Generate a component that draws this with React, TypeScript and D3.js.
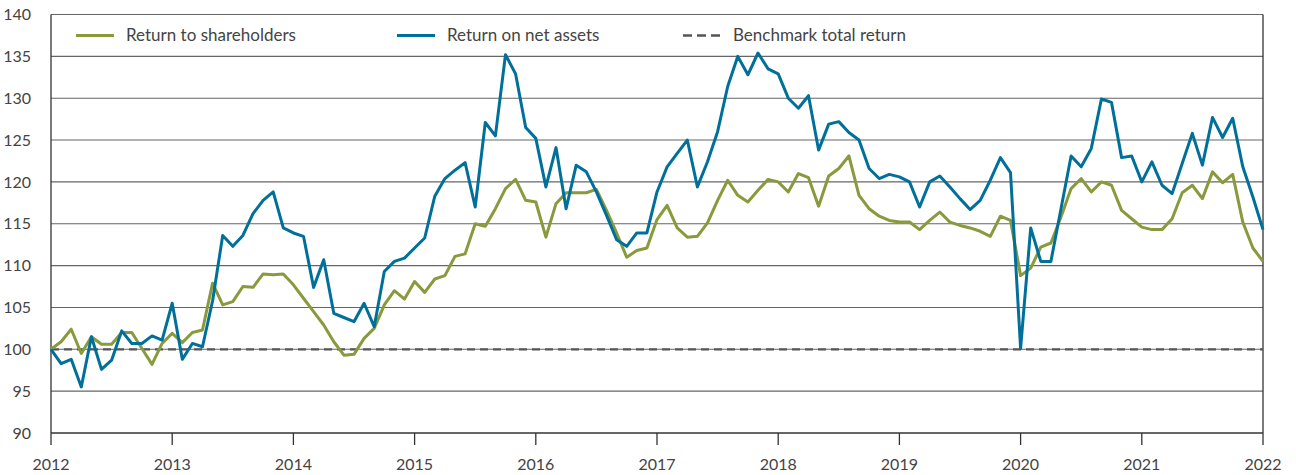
import React from 'react';
import * as d3 from 'd3';

const startYear = 2012;
const endYear = 2022;
const yTicks = [90, 95, 100, 105, 110, 115, 120, 125, 130, 135, 140];
const xTickYears = [2012, 2013, 2014, 2015, 2016, 2017, 2018, 2019, 2020, 2021, 2022];

// monthly index values, Jan 2012 to Jan 2022
const shareholders = [
  100.0, 100.9, 102.4, 99.5, 101.5, 100.6, 100.6, 102.0, 102.0, 100.1, 98.2, 100.7,
  101.9, 100.8, 102.0, 102.3, 107.9, 105.3, 105.7, 107.5, 107.4, 109.0, 108.9, 109.0,
  107.7, 106.1, 104.5, 102.9, 100.9, 99.3, 99.4, 101.3, 102.5, 105.3, 107.0, 106.0,
  108.1, 106.8, 108.4, 108.8, 111.1, 111.4, 115.0, 114.7, 116.8, 119.2, 120.3, 117.8,
  117.6, 113.4, 117.4, 118.7, 118.7, 118.7, 119.1, 116.6, 113.9, 111.0, 111.8, 112.1,
  115.5, 117.2, 114.5, 113.4, 113.5, 115.1, 117.8, 120.2, 118.4, 117.6, 119.0, 120.3,
  120.0, 118.8, 121.0, 120.5, 117.1, 120.7, 121.6, 123.1, 118.4, 116.8, 115.9, 115.4,
  115.2, 115.2, 114.3, 115.4, 116.4, 115.2, 114.8, 114.5, 114.1, 113.5, 115.9, 115.4,
  108.8, 109.7, 112.2, 112.7, 115.8, 119.2, 120.4, 118.8, 120.0, 119.6, 116.6, 115.6,
  114.6, 114.3, 114.3, 115.6, 118.7, 119.6, 118.0, 121.2, 119.9, 120.9, 115.2, 112.1,
  110.5,
];

const netAssets = [
  100.0, 98.3, 98.8, 95.5, 101.5, 97.6, 98.7, 102.2, 100.7, 100.7, 101.6, 101.1,
  105.5, 98.8, 100.7, 100.3, 105.8, 113.6, 112.3, 113.6, 116.2, 117.8, 118.8, 114.5,
  113.9, 113.5, 107.4, 110.7, 104.3, 103.8, 103.3, 105.5, 102.7, 109.3, 110.5, 110.9,
  112.1, 113.3, 118.3, 120.4, 121.4, 122.3, 117.0, 127.1, 125.5, 135.2, 132.9, 126.5,
  125.2, 119.4, 124.1, 116.8, 122.0, 121.2, 118.8, 116.0, 113.1, 112.3, 113.9, 113.9,
  118.8, 121.8, 123.4, 125.0, 119.4, 122.4, 126.0, 131.4, 135.0, 132.8, 135.4, 133.5,
  132.9, 130.0, 128.8, 130.3, 123.8, 126.9, 127.2, 125.9, 125.0, 121.6, 120.4, 120.9,
  120.6, 120.0, 117.0, 120.0, 120.7, 119.4, 118.0, 116.7, 117.8, 120.2, 122.9, 121.1,
  100.1, 114.5, 110.5, 110.5, 116.8, 123.1, 121.8, 124.0, 129.9, 129.5, 122.9, 123.1,
  120.0, 122.4, 119.6, 118.6, 122.2, 125.8, 122.0, 127.7, 125.3, 127.6, 121.8, 118.2,
  114.3,
];

const benchmark = shareholders.map(() => 100);

const seriesNames = ['Return to shareholders', 'Return on net assets', 'Benchmark total return'];
const seriesColors = ['#889a3c', '#00709b', '#555555'];

const width = 1296;
const height = 475;
const margin = { top: 14.5, right: 33, bottom: 42, left: 51 };
const font = 'Lato, "Open Sans", sans-serif';

export default function App() {
  const x = d3.scaleLinear()
    .domain([startYear, endYear])
    .range([margin.left, width - margin.right]);
  const y = d3.scaleLinear()
    .domain([90, 140])
    .range([height - margin.bottom, margin.top]);

  const monthX = (i: number) => x(startYear + i / 12);
  const line = d3.line<number>()
    .x((d, i) => monthX(i))
    .y(d => y(d));

  const legendX = [76, 397, 683];
  const legendY = 35.5;

  return (
    <svg width={width} height={height} style={{ position: 'absolute', left: 0, top: 0, background: '#fff' }}>
      {yTicks.map(t => (
        <g key={t}>
          <line x1={margin.left} x2={width - margin.right} y1={y(t)} y2={y(t)}
            stroke={t === 90 ? '#333' : '#666'} strokeWidth={t === 90 ? 1.3 : 1.1} />
          <text x={31} y={y(t)} dy="0.35em" textAnchor="end" fontFamily={font}
            fontSize={16} fill="#444">{t}</text>
        </g>
      ))}
      <line x1={margin.left} x2={margin.left} y1={margin.top} y2={y(90)} stroke="#333" strokeWidth={1.3} />
      <line x1={width - margin.right} x2={width - margin.right} y1={margin.top} y2={y(90)} stroke="#333" strokeWidth={1.3} />
      {xTickYears.map(yr => (
        <g key={yr}>
          <line x1={x(yr)} x2={x(yr)} y1={y(90)} y2={y(90) + 12} stroke="#333" strokeWidth={1.3} />
          <text x={x(yr)} y={470} textAnchor="middle" fontFamily={font} fontSize={16} fill="#444">{yr}</text>
        </g>
      ))}

      <path d={line(benchmark) || ''} fill="none" stroke={seriesColors[2]} strokeWidth={2.2} strokeDasharray="8,5" />
      <path d={line(shareholders) || ''} fill="none" stroke={seriesColors[0]} strokeWidth={3} strokeLinejoin="round" />
      <path d={line(netAssets) || ''} fill="none" stroke={seriesColors[1]} strokeWidth={3} strokeLinejoin="round" />

      {seriesNames.map((name, i) => (
        <g key={name}>
          <line x1={legendX[i]} x2={legendX[i] + 38} y1={legendY} y2={legendY}
            stroke={seriesColors[i]} strokeWidth={i === 2 ? 2.5 : 3}
            strokeDasharray={i === 2 ? '9,5' : undefined} />
          <text x={legendX[i] + 50} y={legendY} dy="0.35em" fontFamily={font} fontSize={17} fill="#444">{name}</text>
        </g>
      ))}
    </svg>
  );
}
